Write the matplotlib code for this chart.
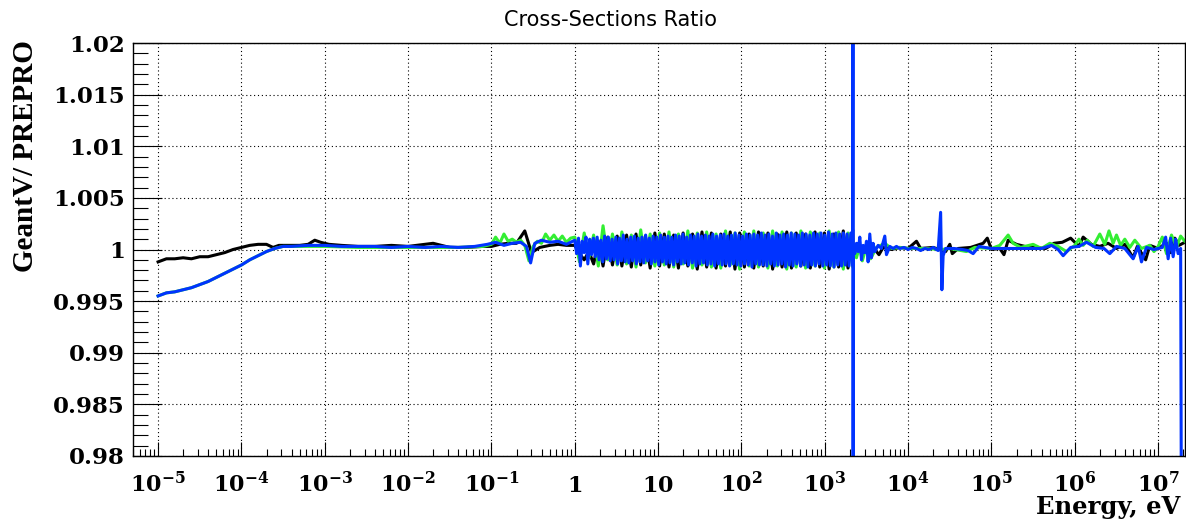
import numpy as np
import matplotlib
matplotlib.use('Agg')
from matplotlib import pyplot as plt
from matplotlib.ticker import LogLocator, MultipleLocator, NullFormatter, FuncFormatter

# --- data: log10(E / eV) and cross-section ratio GeantV / PREPRO ---------

# below 1 eV
black_low_logE = [-5.0, -4.9, -4.8, -4.7, -4.6, -4.5, -4.4, -4.3, -4.2, -4.1,
                  -4.0, -3.9, -3.8, -3.7, -3.62, -3.55, -3.45, -3.3, -3.2, -3.12,
                  -3.05, -2.95, -2.8, -2.6, -2.4, -2.2, -2.0, -1.8, -1.7, -1.6,
                  -1.5, -1.3, -1.1, -1.0, -0.9, -0.8, -0.7, -0.6, -0.52, -0.42,
                  -0.3, -0.2, -0.1]
black_low = [0.9988, 0.9991, 0.9991, 0.9992, 0.9991, 0.9993, 0.9993, 0.9995, 0.9997, 1.0000,
             1.0002, 1.0004, 1.0005, 1.0005, 1.0002, 1.0004, 1.0004, 1.0004, 1.0005, 1.0009,
             1.0007, 1.0005, 1.0004, 1.0003, 1.0003, 1.0004, 1.0003, 1.0005, 1.0006, 1.0004,
             1.0002, 1.0002, 1.0003, 1.0003, 1.0005, 1.0006, 1.0006, 1.0018, 0.9997, 1.0002,
             1.0004, 1.0005, 1.0004]

green_low_logE = [-5.0, -4.9, -4.8, -4.7, -4.6, -4.5, -4.4, -4.3, -4.2, -4.1,
                  -4.0, -3.9, -3.8, -3.7, -3.6, -3.5, -3.4, -3.0, -2.6, -2.2,
                  -1.8, -1.4, -1.1, -1.0, -0.95, -0.9, -0.85, -0.8, -0.75, -0.7,
                  -0.65, -0.6, -0.55, -0.5, -0.45, -0.4, -0.35, -0.3, -0.25, -0.2,
                  -0.15, -0.1, -0.05]
green_low = [0.9955, 0.9958, 0.9959, 0.9961, 0.9963, 0.9966, 0.9969, 0.9973, 0.9977, 0.9981,
             0.9985, 0.9990, 0.9994, 0.9998, 1.0001, 1.0003, 1.0003, 1.0003, 1.0002, 1.0002,
             1.0002, 1.0002, 1.0003, 1.0005, 1.0012, 1.0006, 1.0015, 1.0008, 1.0010, 1.0007,
             1.0009, 1.0004, 0.9989, 1.0003, 1.0008, 1.0006, 1.0015, 1.0009, 1.0014, 1.0008,
             1.0013, 1.0007, 1.0011]

blue_low_logE = [-5.0, -4.9, -4.8, -4.7, -4.6, -4.5, -4.4, -4.3, -4.2, -4.1,
                 -4.0, -3.9, -3.8, -3.7, -3.6, -3.5, -3.4, -3.2, -3.0, -2.8,
                 -2.6, -2.4, -2.2, -2.0, -1.8, -1.6, -1.4, -1.2, -1.05, -0.95,
                 -0.85, -0.75, -0.65, -0.58, -0.53, -0.48, -0.4, -0.3, -0.2, -0.1]
blue_low = [0.9955, 0.9958, 0.9959, 0.9961, 0.9963, 0.9966, 0.9969, 0.9973, 0.9977, 0.9981,
            0.9985, 0.9990, 0.9994, 0.9998, 1.0001, 1.0003, 1.0003, 1.0004, 1.0004, 1.0003,
            1.0003, 1.0003, 1.0002, 1.0003, 1.0002, 1.0003, 1.0002, 1.0003, 1.0005, 1.0007,
            1.0004, 1.0006, 1.0007, 1.0003, 0.9987, 1.0006, 1.0009, 1.0007, 1.0008, 1.0005]

# resonance region 1 eV .. ~2.2 keV, read as consecutive samples
dense_logE_range = (0.0, 3.335)

black_dense = [1.0004, 0.9996, 0.9990, 0.9998, 0.9986, 1.0008, 0.9984, 1.0012, 0.9985, 1.0013,
               0.9984, 1.0014, 0.9983, 1.0015, 0.9985, 1.0013, 0.9982, 1.0016, 0.9984, 1.0015,
               0.9983, 1.0014, 0.9982, 1.0016, 0.9984, 1.0015, 0.9981, 1.0017, 0.9983, 1.0016,
               0.9982, 1.0015, 0.9984, 1.0017, 0.9981, 1.0016, 0.9983, 1.0015, 0.9982, 1.0017,
               0.9984, 1.0016, 0.9981, 1.0015, 0.9983, 1.0017, 0.9982, 1.0016, 0.9984, 1.0015,
               0.9982, 1.0017, 0.9983, 1.0016, 0.9981, 1.0015, 0.9983, 1.0018, 0.9982, 1.0019]

green_dense = [1.0012, 0.9988, 1.0016, 0.9992, 1.0014, 0.9984, 1.0023, 0.9990, 1.0015, 0.9985,
               1.0017, 0.9986, 1.0014, 0.9983, 1.0019, 0.9987, 1.0015, 0.9984, 1.0016, 0.9985,
               1.0017, 0.9983, 1.0015, 0.9986, 1.0018, 0.9982, 1.0016, 0.9985, 1.0017, 0.9983,
               1.0015, 0.9982, 1.0018, 0.9985, 1.0016, 0.9981, 1.0017, 0.9984, 1.0018, 0.9983,
               1.0016, 0.9982, 1.0018, 0.9984, 1.0017, 0.9981, 1.0016, 0.9983, 1.0018, 0.9982,
               1.0017, 0.9984, 1.0016, 0.9982, 1.0018, 0.9983, 1.0017, 0.9981, 1.0016, 0.9983]

blue_dense = [1.0009, 0.9996, 1.0011, 0.9984, 1.0008, 0.9997, 1.0012, 0.9986, 1.0010, 0.9995,
              1.0011, 0.9993, 1.0012, 0.9990, 1.0009, 0.9988, 1.0013, 0.9991, 1.0012, 0.9989,
              1.0010, 0.9990, 1.0012, 0.9986, 1.0011, 0.9989, 1.0014, 0.9988, 1.0010, 0.9987,
              1.0012, 0.9989, 1.0013, 0.9986, 1.0011, 0.9988, 1.0012, 0.9987, 1.0014, 0.9989,
              1.0011, 0.9986, 1.0013, 0.9988, 1.0012, 0.9985, 1.0014, 0.9988, 1.0012, 0.9986,
              1.0013, 0.9987, 1.0012, 0.9985, 1.0014, 0.9988, 1.0013, 0.9986, 1.0015, 0.9987,
              1.0012, 0.9985, 1.0014, 0.9987, 1.0013, 0.9984, 1.0015, 0.9986, 1.0013, 0.9987,
              1.0014, 0.9985, 1.0013, 0.9986, 1.0015, 0.9984, 1.0013, 0.9986, 1.0014, 0.9985,
              1.0015, 0.9986, 1.0013, 0.9984, 1.0014, 0.9986, 1.0016, 0.9985, 1.0014, 0.9984,
              1.0013, 0.9986, 1.0015, 0.9985, 1.0014, 0.9983, 1.0015, 0.9986, 1.0014, 0.9985,
              1.0016, 0.9985, 1.0014, 0.9984, 1.0015, 0.9986, 1.0013, 0.9984, 1.0016, 0.9985,
              1.0014, 0.9986, 1.0015, 0.9983, 1.0014, 0.9985, 1.0016, 0.9984, 1.0015, 0.9986,
              1.0014, 0.9984, 1.0016, 0.9985, 1.0015, 0.9983, 1.0014, 0.9985, 1.0016, 0.9984,
              1.0015, 0.9986, 1.0016, 0.9984, 1.0014, 0.9985, 1.0017, 0.9984, 1.0015, 0.9983,
              1.0016, 0.9985, 1.0015, 0.9984, 1.0016, 0.9985, 1.0015, 0.9984, 1.0016, 0.9985]

# above ~2.2 keV
black_high_logE = [3.34, 3.4, 3.5, 3.6, 3.65, 3.7, 3.8, 3.9, 4.0, 4.1,
                   4.15, 4.3, 4.45, 4.5, 4.53, 4.6, 4.75, 4.9, 4.95, 5.0,
                   5.1, 5.15, 5.2, 5.3, 5.4, 5.5, 5.65, 5.75, 5.85, 5.95,
                   6.05, 6.1, 6.2, 6.3, 6.4, 6.5, 6.6, 6.7, 6.75, 6.85,
                   6.9, 7.0, 7.1, 7.15, 7.2, 7.25, 7.32]
black_high = [1.0001, 0.9998, 1.0002, 1.0000, 0.9995, 1.0002, 1.0000, 1.0002, 1.0001, 1.0008,
              1.0001, 1.0002, 0.9998, 1.0005, 0.9996, 1.0001, 1.0002, 1.0006, 1.0011, 1.0000,
              1.0001, 0.9995, 1.0009, 1.0005, 1.0003, 1.0002, 1.0001, 1.0006, 1.0007, 1.0011,
              1.0003, 1.0012, 1.0005, 1.0003, 1.0006, 1.0001, 1.0005, 0.9992, 1.0003, 0.9990,
              1.0004, 1.0001, 1.0006, 0.9997, 1.0011, 1.0004, 1.0007]

green_high_logE = [3.34, 3.38, 3.42, 3.45, 3.50, 3.55, 3.62, 3.72, 3.80, 3.9,
                   4.0, 4.2, 4.4, 4.5, 4.7, 4.8, 5.0, 5.1, 5.2, 5.26,
                   5.35, 5.5, 5.6, 5.7, 5.8, 5.9, 6.0, 6.05, 6.1, 6.15,
                   6.22, 6.3, 6.36, 6.41, 6.46, 6.5, 6.55, 6.6, 6.66, 6.72,
                   6.8, 6.9, 6.95, 7.0, 7.05, 7.1, 7.16, 7.22, 7.27, 7.32]
green_high = [1.0000, 0.9992, 1.0004, 0.9989, 1.0003, 0.9991, 1.0002, 1.0006, 1.0001, 1.0002,
              1.0001, 1.0001, 1.0000, 1.0001, 0.9998, 1.0002, 1.0001, 1.0004, 1.0014, 1.0006,
              1.0002, 1.0005, 1.0001, 1.0006, 1.0003, 0.9998, 1.0004, 1.0010, 1.0004, 1.0009,
              1.0003, 1.0015, 1.0005, 1.0018, 1.0006, 1.0014, 1.0004, 1.0010, 1.0002, 1.0009,
              1.0001, 1.0004, 0.9998, 1.0003, 1.0012, 0.9996, 1.0014, 1.0002, 1.0013, 1.0008]

blue_high_logE = [3.338, 3.340, 3.342, 3.36, 3.38, 3.40, 3.42, 3.44, 3.46, 3.48,
                  3.50, 3.52, 3.54, 3.56, 3.58, 3.60, 3.64, 3.68, 3.72, 3.74,
                  3.78, 3.82, 3.86, 3.90, 3.95, 4.00, 4.05, 4.10, 4.15, 4.20,
                  4.25, 4.30, 4.36, 4.39, 4.405, 4.42, 4.45, 4.55, 4.65, 4.72,
                  4.78, 4.85, 4.92, 5.0, 5.3, 5.6, 5.72, 5.80, 5.86, 5.95,
                  6.05, 6.14, 6.25, 6.35, 6.42, 6.5, 6.6, 6.70, 6.76, 6.80,
                  6.86, 6.95, 7.05, 7.09, 7.12, 7.15, 7.18, 7.21, 7.24, 7.27,
                  7.28]
blue_high = [1.03, 0.97, 1.0003, 0.9996, 1.0006, 0.9998, 1.0012, 0.9990, 1.0004, 0.9997,
             1.0008, 0.9988, 1.0015, 0.9992, 1.0006, 0.9998, 1.0004, 1.0001, 1.0013, 0.9995,
             1.0003, 1.0001, 1.0003, 1.0001, 1.0002, 1.0000, 1.0002, 1.0001, 0.9999, 1.0001,
             1.0000, 1.0002, 0.9999, 1.0036, 0.9961, 0.9994, 1.0001, 1.0001, 1.0000, 0.9999,
             0.9996, 1.0003, 1.0002, 1.0001, 1.0001, 1.0001, 1.0004, 1.0000, 0.9994, 1.0002,
             1.0003, 1.0007, 1.0002, 1.0001, 0.9996, 1.0003, 1.0001, 0.9991, 1.0003, 0.9988,
             1.0002, 1.0000, 1.0002, 1.0012, 0.9991, 1.0011, 0.9993, 1.0010, 0.9996, 1.0001,
             0.97]

decades = list(range(-5, 8))


def series(low_logE, low, dense, high_logE, high):
    dense_logE = np.linspace(dense_logE_range[0], dense_logE_range[1], len(dense))
    logE = np.concatenate([low_logE, dense_logE, high_logE])
    return 10.0 ** logE, np.concatenate([low, dense, high])


plt.rcParams['path.simplify'] = False
plt.rcParams['mathtext.fontset'] = 'dejavuserif'
plt.rcParams['font.family'] = 'DejaVu Serif'
plt.rcParams['font.weight'] = 'bold'

fig = plt.figure(figsize=(11.86, 5.19), dpi=100)
ax = fig.add_axes([133 / 1186, 63 / 519, 1052 / 1186, 413 / 519])

E, r = series(black_low_logE, black_low, black_dense, black_high_logE, black_high)
ax.plot(E, r, color='black', lw=2.2)
E, r = series(green_low_logE, green_low, green_dense, green_high_logE, green_high)
ax.plot(E, r, color='#33ee33', lw=2.2)
E, r = series(blue_low_logE, blue_low, blue_dense, blue_high_logE, blue_high)
ax.plot(E, r, color='#0033ff', lw=2.2)

ax.set_xscale('log')
ax.set_xlim(5.0e-6, 2.1e7)
ax.set_ylim(0.98, 1.02)


def xlab(n):
    if n == 0:
        return r'$\mathbf{1}$'
    if n == 1:
        return r'$\mathbf{10}$'
    return r'$\mathbf{10^{%d}}$' % n


ax.set_xticks([10.0 ** n for n in decades], [xlab(n) for n in decades])
ax.xaxis.set_minor_locator(LogLocator(base=10, subs=np.arange(2, 10), numticks=100))
ax.xaxis.set_minor_formatter(NullFormatter())
ax.yaxis.set_major_locator(MultipleLocator(0.005))
ax.yaxis.set_minor_locator(MultipleLocator(0.001))
ax.yaxis.set_major_formatter(FuncFormatter(lambda v, p: f'{v:g}'))

ax.tick_params(axis='x', which='major', direction='in', length=10, width=0.8,
               labelsize=16, pad=26, top=False)
ax.tick_params(axis='x', which='minor', direction='in', length=5, width=0.8, top=False)
ax.tick_params(axis='y', which='major', direction='in', length=21, width=0.8,
               labelsize=16.5, pad=6, right=False)
ax.tick_params(axis='y', which='minor', direction='in', length=10.5, width=0.8, right=False)
for lab in ax.get_xticklabels():
    lab.set_verticalalignment('baseline')

ax.grid(True, which='major', color='black', lw=0.8, linestyle=(0, (1, 2.5)))
for s in ax.spines.values():
    s.set_linewidth(1.0)

fig.text(611 / 1186, 1 - 26 / 519, 'Cross-Sections Ratio', ha='center', va='baseline',
         family='DejaVu Sans', weight='normal', fontsize=15)
fig.text(26 / 1186, 1 - 40 / 519, 'GeantV/ PREPRO', rotation=90, ha='center', va='top',
         family='Liberation Serif', weight='bold', fontsize=21)
fig.text(1180 / 1186, 1 - 514 / 519, 'Energy, eV', ha='right', va='baseline',
         family='DejaVu Serif', weight='bold', fontsize=17.5)

fig.savefig('out.png', dpi=100)
